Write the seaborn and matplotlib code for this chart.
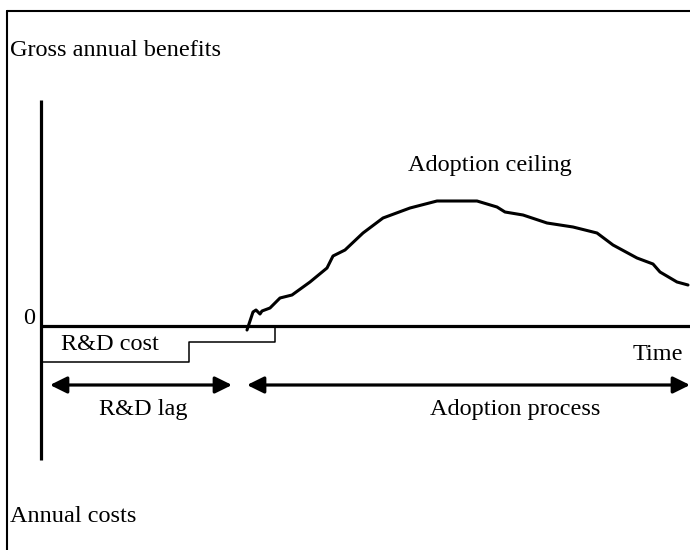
import matplotlib
matplotlib.use("Agg")
import matplotlib.pyplot as plt
import seaborn as sns
import pandas as pd

# ---- data (time units from the vertical axis, benefit units above the zero line)
curve_t = [206, 212, 215, 219, 221, 229, 239, 251, 269, 286, 292, 304, 322, 342,
           369, 396, 436, 456, 464, 482, 506, 532, 556, 572, 596, 612, 619, 636, 647]
curve_b = [-4, 14, 16, 12, 15, 18, 28, 31, 44, 58, 70, 76, 93, 108,
           118, 125, 125, 119, 114, 111, 103, 99, 93, 81, 68, 62, 54, 44, 41]
rd_cost_t = [0, 148, 234]
rd_cost_b = [-36, -16, 0]
rd_lag_span = [9, 191]
adoption_span = [206, 649]
axis_top, axis_bottom = 226, -134
time_end = 649

labels = {
    "zero": "0",
    "rd_cost": "R&D cost",
    "time": "Time",
    "rd_lag": "R&D lag",
    "adoption": "Adoption process",
    "ceiling": "Adoption ceiling",
    "benefits": "Gross annual benefits",
    "costs": "Annual costs",
}

sns.set_theme(style="white")
plt.rcParams["font.family"] = ["Liberation Serif", "DejaVu Serif"]
plt.rcParams["text.color"] = "black"

fig = plt.figure(figsize=(6.9, 5.5), dpi=100)
ax = fig.add_axes([0, 0, 1, 1])
ax.set_xlim(-41, 649)
ax.set_ylim(-224, 326)
ax.axis("off")

curve_df = pd.DataFrame({"t": curve_t, "b": curve_b})
cost_df = pd.DataFrame({"t": rd_cost_t, "b": rd_cost_b})

# axes of the schematic
ax.plot([0, 0], [axis_bottom, axis_top], color="black", lw=2.3, solid_capstyle="butt")
ax.plot([0, time_end], [0, 0], color="black", lw=2.3, solid_capstyle="butt")

# R&D cost step and adoption curve
sns.lineplot(data=cost_df, x="t", y="b", ax=ax, color="black", lw=1.1,
             drawstyle="steps-post", sort=False, estimator=None)
sns.lineplot(data=curve_df, x="t", y="b", ax=ax, color="black", lw=2.2,
             sort=False, estimator=None, solid_joinstyle="round",
             solid_capstyle="round")

# outer frame (top and left)
ax.plot([-34, 649], [315, 315], color="black", lw=1.5, clip_on=False)
ax.plot([-34, -34], [315, -224], color="black", lw=1.5, clip_on=False)

# double arrows
arrow_y = -59
for span in (rd_lag_span, adoption_span):
    ax.annotate("", xy=(span[0], arrow_y), xytext=(span[1], arrow_y),
                arrowprops=dict(arrowstyle="<|-|>,head_length=0.85,head_width=0.42",
                                color="black", lw=2.3, shrinkA=0, shrinkB=0))

fs = 17.5
kw = dict(fontsize=fs, color="black")
ax.text(-11.5, 7, labels["zero"], ha="center", va="center", **kw)
ax.text(20, -19, labels["rd_cost"], ha="left", va="center", **kw)
ax.text(642, -29, labels["time"], ha="right", va="center", **kw)
ax.text(102, -84, labels["rd_lag"], ha="center", va="center", **kw)
ax.text(474, -84, labels["adoption"], ha="center", va="center", **kw)
ax.text(448.5, 161, labels["ceiling"], ha="center", va="center", **kw)
ax.text(-31, 275, labels["benefits"], ha="left", va="center", **kw)
ax.text(-31, -191, labels["costs"], ha="left", va="center", **kw)

fig.savefig("out.png", dpi=100, facecolor="white")
